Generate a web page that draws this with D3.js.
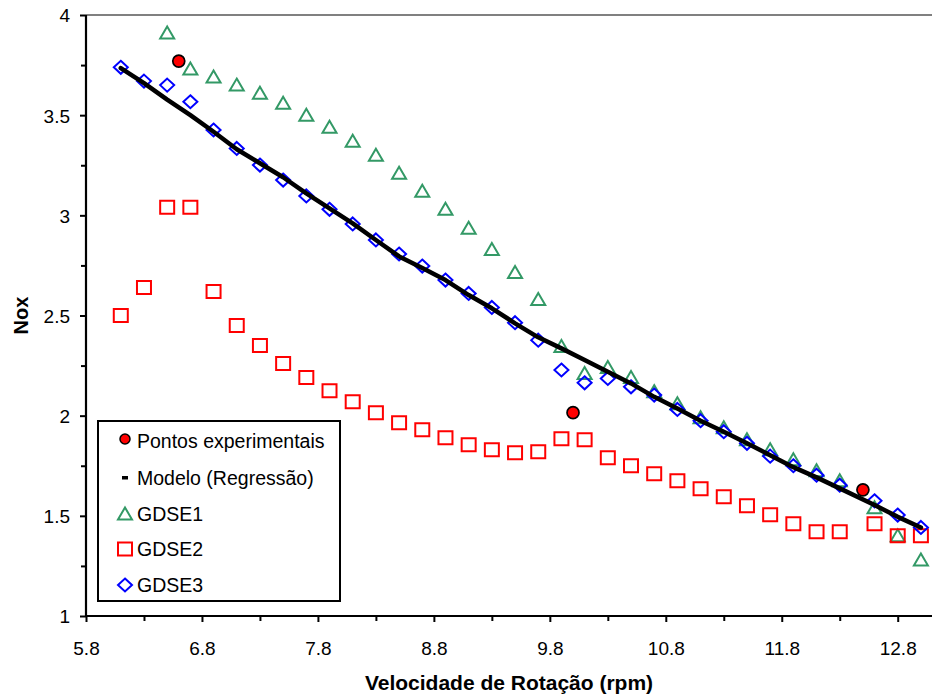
<!DOCTYPE html>
<html>
<head>
<meta charset="utf-8">
<script src="https://cdn.jsdelivr.net/npm/d3@7"></script>
<style>
  html, body { margin: 0; padding: 0; background: #fff; }
  svg { display: block; }
  text { font-family: "Liberation Sans", Arial, sans-serif; fill: #000; }
</style>
</head>
<body>
<svg id="chart" width="932" height="698"></svg>
<script>
// Rotation speed (rpm) at which the simulated series were evaluated
const speed = [6.1, 6.3, 6.5, 6.7, 6.9, 7.1, 7.3, 7.5, 7.7, 7.9, 8.1, 8.3, 8.5, 8.7, 8.9,
  9.1, 9.3, 9.5, 9.7, 9.9, 10.1, 10.3, 10.5, 10.7, 10.9, 11.1, 11.3, 11.5, 11.7, 11.9,
  12.1, 12.3, 12.6, 12.8, 13.0];

// Regression model
const modelo = [3.735, 3.66, 3.578, 3.50, 3.417, 3.33, 3.26, 3.19, 3.11, 3.035, 2.96, 2.877,
  2.795, 2.737, 2.677, 2.602, 2.536, 2.461, 2.391, 2.336, 2.278, 2.219, 2.161, 2.094, 2.036,
  1.975, 1.92, 1.862, 1.803, 1.743, 1.692, 1.637, 1.554, 1.495, 1.442];

// GDSE1 (no values at the two lowest speeds)
const gdse1 = [null, null, 3.91, 3.73, 3.69, 3.65, 3.61, 3.56, 3.50, 3.44, 3.37, 3.30, 3.21,
  3.12, 3.03, 2.935, 2.83, 2.715, 2.58, 2.345, 2.21, 2.24, 2.19, 2.12, 2.06, 1.99, 1.94,
  1.88, 1.83, 1.78, 1.725, 1.675, 1.54, 1.40, 1.28];

// GDSE2
const gdse2 = [2.50, 2.64, 3.04, 3.04, 2.62, 2.45, 2.35, 2.26, 2.19, 2.125, 2.07, 2.015,
  1.965, 1.93, 1.89, 1.855, 1.83, 1.815, 1.82, 1.885, 1.88, 1.79, 1.75, 1.71, 1.675,
  1.635, 1.595, 1.55, 1.505, 1.46, 1.42, 1.42, 1.46, 1.40, 1.40];

// GDSE3
const gdse3 = [3.739, 3.67, 3.65, 3.567, 3.426, 3.334, 3.251, 3.176, 3.097, 3.03, 2.957,
  2.877, 2.807, 2.747, 2.677, 2.61, 2.54, 2.464, 2.377, 2.228, 2.164, 2.186, 2.144, 2.103,
  2.031, 1.975, 1.92, 1.862, 1.798, 1.75, 1.703, 1.653, 1.575, 1.504, 1.442];

// Experimental measurements
const expSpeed = [6.6, 10.0, 12.5];
const expNox = [3.77, 2.015, 1.63];

// Axis ticks
const xMajorTicks = [5.8, 6.8, 7.8, 8.8, 9.8, 10.8, 11.8, 12.8];
const xMinorTicks = [6.3, 7.3, 8.3, 9.3, 10.3, 11.3, 12.3];
const yMajorTicks = [1, 1.5, 2, 2.5, 3, 3.5, 4];
const yMinorTicks = [1.25, 1.75, 2.25, 2.75, 3.25, 3.75];

const legendLabels = ["Pontos experimentais", "Modelo (Regressão)", "GDSE1", "GDSE2", "GDSE3"];

const colors = { exp: "#ff0000", modelo: "#000000", g1: "#339966", g2: "#ff0000", g3: "#0000ff" };

const svg = d3.select("#chart");
const plotLeft = 86, plotRight = 932.5, plotTop = 15, plotBottom = 616;

const x = d3.scaleLinear().domain([5.8, 13.1]).range([plotLeft, plotRight]);
const y = d3.scaleLinear().domain([1, 4]).range([plotBottom, plotTop]);

// top frame line
svg.append("line")
  .attr("x1", plotLeft).attr("x2", 932).attr("y1", plotTop).attr("y2", plotTop)
  .attr("stroke", "#808080").attr("stroke-width", 2);

// axes: ticks and labels
const fontSize = 19;
const xAxis = svg.append("g").attr("transform", `translate(0,${plotBottom})`)
  .call(d3.axisBottom(x).tickValues(xMajorTicks).tickFormat(d3.format(".1f"))
    .tickSize(6).tickSizeOuter(0));
xAxis.select(".domain").remove();
xAxis.selectAll("line").attr("stroke", "#000").attr("stroke-width", 2);
xAxis.selectAll("text").attr("y", 39).attr("dy", 0)
  .style("font-size", fontSize + "px").style("font-family", "Liberation Sans, Arial, sans-serif").attr("fill", "#000");

const xMinor = svg.append("g").attr("transform", `translate(0,${plotBottom})`)
  .call(d3.axisBottom(x).tickValues(xMinorTicks).tickFormat("").tickSize(5).tickSizeOuter(0));
xMinor.select(".domain").remove();
xMinor.selectAll("line").attr("stroke", "#000").attr("stroke-width", 2);

const yAxis = svg.append("g").attr("transform", `translate(${plotLeft},0)`)
  .call(d3.axisLeft(y).tickValues(yMajorTicks).tickFormat(d => String(d))
    .tickSize(6).tickSizeOuter(0).tickPadding(10));
yAxis.select(".domain").remove();
yAxis.selectAll("line").attr("stroke", "#000").attr("stroke-width", 2);
yAxis.selectAll("text").attr("dy", "0.36em")
  .style("font-size", fontSize + "px").style("font-family", "Liberation Sans, Arial, sans-serif").attr("fill", "#000");

const yMinor = svg.append("g").attr("transform", `translate(${plotLeft},0)`)
  .call(d3.axisLeft(y).tickValues(yMinorTicks).tickFormat("").tickSize(5).tickSizeOuter(0));
yMinor.select(".domain").remove();
yMinor.selectAll("line").attr("stroke", "#000").attr("stroke-width", 2);

// axis lines
svg.append("line").attr("x1", plotLeft).attr("x2", plotLeft).attr("y1", plotTop).attr("y2", plotBottom + 1)
  .attr("stroke", "#000").attr("stroke-width", 2.2);
svg.append("line").attr("x1", plotLeft - 1).attr("x2", 932).attr("y1", plotBottom).attr("y2", plotBottom)
  .attr("stroke", "#000").attr("stroke-width", 2.2);

// axis titles
svg.append("text")
  .attr("x", (plotLeft + 932) / 2).attr("y", 690)
  .attr("text-anchor", "middle")
  .style("font-size", "21px").style("font-weight", "bold")
  .text("Velocidade de Rotação (rpm)");

svg.append("text")
  .attr("transform", `translate(28,${(plotTop + plotBottom) / 2}) rotate(-90)`)
  .attr("text-anchor", "middle")
  .style("font-size", "20px").style("font-weight", "bold")
  .text("Nox");

// marker shapes
const triPath = "M0,-6.5 L7,5.5 L-7,5.5 Z";
const sqPath = "M-7,-6.5 H7 V6.5 H-7 Z";
const diaPath = "M0,-6.5 L7,0 L0,6.5 L-7,0 Z";

function drawMarkers(values, path, color) {
  const pts = speed.map((s, i) => [s, values[i]]).filter(d => d[1] != null);
  svg.append("g").selectAll("path").data(pts).join("path")
    .attr("d", path)
    .attr("transform", d => `translate(${x(d[0])},${y(d[1])})`)
    .attr("fill", "none").attr("stroke", color).attr("stroke-width", 2);
}

drawMarkers(gdse1, triPath, colors.g1);
drawMarkers(gdse2, sqPath, colors.g2);
drawMarkers(gdse3, diaPath, colors.g3);

// regression model line
const line = d3.line().x(d => x(d[0])).y(d => y(d[1]));
const modelPts = speed.map((s, i) => [s, modelo[i]]);
svg.append("path").datum(modelPts)
  .attr("d", line).attr("fill", "none")
  .attr("stroke", colors.modelo).attr("stroke-width", 4.5)
  .attr("stroke-linejoin", "round").attr("stroke-linecap", "round");

// experimental points
svg.append("g").selectAll("circle").data(expSpeed.map((s, i) => [s, expNox[i]])).join("circle")
  .attr("cx", d => x(d[0])).attr("cy", d => y(d[1])).attr("r", 6)
  .attr("fill", colors.exp).attr("stroke", "#000").attr("stroke-width", 1.7);

// legend
const lg = svg.append("g");
lg.append("rect").attr("x", 98).attr("y", 421).attr("width", 242).attr("height", 180)
  .attr("fill", "#fff").attr("stroke", "#000").attr("stroke-width", 2);
const rowY = [441, 478, 514, 549, 585];
const mx = 125;
lg.append("circle").attr("cx", mx).attr("cy", rowY[0] - 2).attr("r", 5)
  .attr("fill", colors.exp).attr("stroke", "#000").attr("stroke-width", 1.5);
lg.append("rect").attr("x", mx - 3).attr("y", rowY[1] - 2).attr("width", 6).attr("height", 3.5)
  .attr("fill", "#000");
lg.append("path").attr("d", triPath).attr("transform", `translate(${mx},${rowY[2]})`)
  .attr("fill", "none").attr("stroke", colors.g1).attr("stroke-width", 2);
lg.append("path").attr("d", sqPath).attr("transform", `translate(${mx},${rowY[3]})`)
  .attr("fill", "none").attr("stroke", colors.g2).attr("stroke-width", 2);
lg.append("path").attr("d", diaPath).attr("transform", `translate(${mx},${rowY[4]})`)
  .attr("fill", "none").attr("stroke", colors.g3).attr("stroke-width", 2);
lg.selectAll("text.lab").data(legendLabels).join("text").attr("class", "lab")
  .attr("x", 137).attr("y", (d, i) => rowY[i] + 7)
  .style("font-size", "19.5px")
  .text(d => d);
</script>
</body>
</html>
